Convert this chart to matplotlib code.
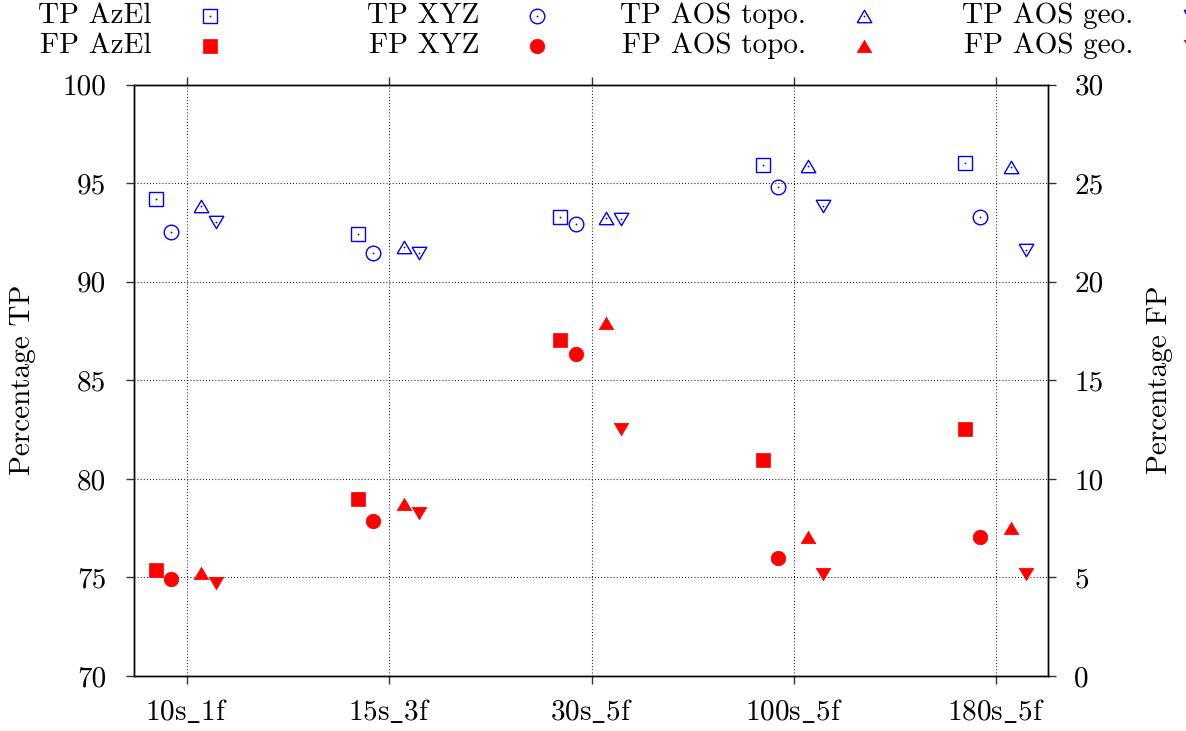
import matplotlib
matplotlib.use("Agg")
import matplotlib.pyplot as plt
from matplotlib.lines import Line2D
import numpy as np

plt.rcParams["font.family"] = ["cmr10", "DejaVu Serif"]
plt.rcParams["mathtext.fontset"] = "cm"
plt.rcParams["axes.unicode_minus"] = False

# --- data ---
categories = ["10s_1f", "15s_3f", "30s_5f", "100s_5f", "180s_5f"]

tp_azel = [94.2, 92.4, 93.3, 95.9, 96.0]
tp_xyz = [92.5, 91.45, 92.9, 94.8, 93.3]
tp_aos_topo = [93.85, 91.75, 93.25, 95.85, 95.8]
tp_aos_geo = [93.05, 91.45, 93.2, 93.85, 91.6]

fp_azel = [5.4, 9.0, 17.05, 10.95, 12.55]
fp_xyz = [4.9, 7.85, 16.35, 6.0, 7.05]
fp_aos_topo = [5.25, 8.7, 17.9, 7.05, 7.5]
fp_aos_geo = [4.7, 8.25, 12.55, 5.15, 5.15]

FS = 21
BLUE = "#0000ff"
RED = "#ff0000"

tri_up = [(-1, -0.85), (1, -0.85), (0, 0.85), (-1, -0.85)]
tri_down = [(-1, 0.85), (1, 0.85), (0, -0.85), (-1, 0.85)]

# method -> (tp values, fp values, marker, x offset, label suffix)
methods = [
    (tp_azel, fp_azel, "s", -0.155, "AzEl"),
    (tp_xyz, fp_xyz, "o", -0.08, "XYZ"),
    (tp_aos_topo, fp_aos_topo, tri_up, 0.07, "AOS topo."),
    (tp_aos_geo, fp_aos_geo, tri_down, 0.145, "AOS geo."),
]

fig = plt.figure(figsize=(11.86, 7.31), dpi=100)
ax = fig.add_axes([0.1130, 0.0752, 0.7706, 0.8092])
ax2 = ax.twinx()

x = np.arange(len(categories))
for tp, fp, mk, off, _ in methods:
    ax.plot(x + off, tp, ls="none", marker=mk, ms=10.5, mfc="none",
            mec=BLUE, mew=1.0, zorder=3)
    # gnuplot-style centre dot in the open points
    ax.plot(x + off, tp, ls="none", marker="o", ms=1.3, mfc=BLUE,
            mec=BLUE, mew=0, zorder=3)
    ax2.plot(x + off, fp, ls="none", marker=mk, ms=10.5, mfc=RED,
             mec=RED, mew=0.5, zorder=3)

ax.set_xlim(-0.262, 4.255)
ax.set_ylim(70, 100)
ax2.set_ylim(0, 30)

# cmr10 has no underscore glyph, so draw it through mathtext
ax.set_xticks(x)
ax.set_xticklabels([c.replace("_", r"$\_$") for c in categories], fontsize=FS)
yt = list(range(70, 101, 5))
ax.set_yticks(yt)
ax.set_yticklabels([str(v) for v in yt], fontsize=FS)
yt2 = list(range(0, 31, 5))
ax2.set_yticks(yt2)
ax2.set_yticklabels([str(v) for v in yt2], fontsize=FS)

ax.tick_params(axis="both", direction="out", length=6, width=1, color="#333333")
ax.tick_params(axis="x", top=True, pad=10)
ax.tick_params(axis="y", pad=14)
ax2.tick_params(axis="y", direction="out", length=6, width=1, color="#333333", pad=13)

ax.grid(True, color="black", lw=0.8, ls=(0, (0.8, 2.0)))
ax.set_axisbelow(True)
for a in (ax, ax2):
    for sp in a.spines.values():
        sp.set_linewidth(1.0)

fig.text(23 / 1186, 1 - 380 / 731, "Percentage TP", rotation=90,
         ha="center", va="center", fontsize=FS)
fig.text(1160 / 1186, 1 - 380 / 731, "Percentage FP", rotation=90,
         ha="center", va="center", fontsize=FS)

# --- key: two rows (TP / FP), four columns, text left of sample ---
text_right = [152, 479, 806, 1133]
marker_x = [210, 537, 864, 1191]
row_y = [16, 46]
for i, (tp, fp, mk, off, name) in enumerate(methods):
    for r, (prefix, filled) in enumerate([("TP", False), ("FP", True)]):
        yy = 1 - row_y[r] / 731
        fig.text(text_right[i] / 1186, yy, f"{prefix} {name}", ha="right",
                 va="center", fontsize=FS)
        color = RED if filled else BLUE
        fig.add_artist(Line2D([marker_x[i] / 1186], [yy], transform=fig.transFigure,
                              ls="none", marker=mk, ms=10.5,
                              mfc=color if filled else "none", mec=color,
                              mew=0.5 if filled else 1.0, clip_on=False))
        if not filled:
            fig.add_artist(Line2D([marker_x[i] / 1186], [yy], transform=fig.transFigure,
                                  ls="none", marker="o", ms=1.3, mfc=BLUE, mew=0,
                                  clip_on=False))

fig.savefig("out.png", dpi=100)
